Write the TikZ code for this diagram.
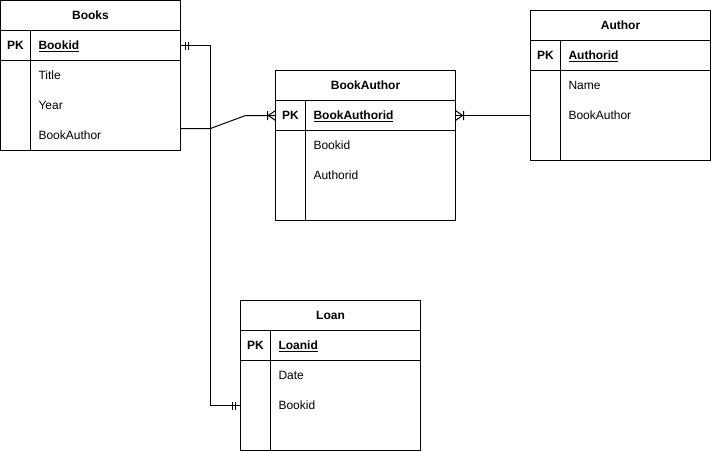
\documentclass[tikz,border=0pt]{standalone}
\usepackage{fontspec}
\setmainfont{Liberation Sans}

\newcommand{\ertable}[5]{%
  \node[tblbox] (#1) at (#2) {};
  \node[tblrow, bold] (#1-head) at (#1.north) {#3};
  \node[tblrow] (#1-pk) at (#1-head.south) {};
  \draw ([xshift=30pt]#1-pk.north west) -- ([xshift=30pt]#1.south west);
  \node[tbltext, anchor=center, bold] (#1-pklabel) at ([xshift=15pt]#1-pk.west) {PK};
  \node[tbltext, bold] (#1-key) at ([xshift=38pt]#1-pk.west) {\underline{#4}};
  \foreach \fld [count=\i] in {#5}
    \node[tbltext] (#1-\i) at ([xshift=38pt,yshift=-\i*30pt]#1-pk.west) {\fld};
}

\begin{document}
\begin{tikzpicture}[x=1pt, y=-1pt, line width=1pt,
    font=\fontsize{12}{14}\selectfont,
    bold/.style={font=\fontsize{12}{14}\selectfont\bfseries},
    tblbox/.style={draw, minimum width=180pt, minimum height=150pt, anchor=north west, inner sep=0, outer sep=0},
    tblrow/.style={draw, minimum width=180pt, minimum height=30pt, anchor=north, inner sep=0, outer sep=0},
    tbltext/.style={anchor=west, inner sep=0, outer sep=0, text height=8.6pt, text depth=0pt}]
    \useasboundingbox (-0.5,-0.5) rectangle (710.5,450.5);

    \ertable{books}{0,0}{Books}{Bookid}{Title,Year,BookAuthor}
    \ertable{author}{530,10}{Author}{Authorid}{Name,BookAuthor}
    \ertable{ba}{275,70}{BookAuthor}{BookAuthorid}{Bookid,Authorid}
    \ertable{loan}{240,300}{Loan}{Loanid}{Date,Bookid}

    % Books -- Loan
    \draw (books-pk.east) -- ++(30,0) |- (loan.west |- loan-2);
    \foreach \d in {5pt,8pt} {
      \draw ([xshift=\d]books-pk.east) ++(0,-4) -- ++(0,8);
      \draw ([xshift=-\d]loan.west |- loan-2) ++(0,-4) -- ++(0,8);
    }

    % Books -- BookAuthor
    \draw ([yshift=7pt]books.east |- books-3) -- ++(30,0) -- ([xshift=-30pt]ba-pk.west) -- (ba-pk.west);
    \draw ([xshift=-7pt]ba-pk.west) -- ++(7,5) ([xshift=-7pt]ba-pk.west) -- ++(7,-5)
      ([xshift=-8pt]ba-pk.west) ++(0,-4.5) -- ++(0,9);

    % BookAuthor -- Author
    \draw (ba-pk.east) -- (author.west |- author-2);
    \draw ([xshift=7pt]ba-pk.east) -- ++(-7,5) ([xshift=7pt]ba-pk.east) -- ++(-7,-5)
      ([xshift=8pt]ba-pk.east) ++(0,-4.5) -- ++(0,9);
\end{tikzpicture}
\end{document}
